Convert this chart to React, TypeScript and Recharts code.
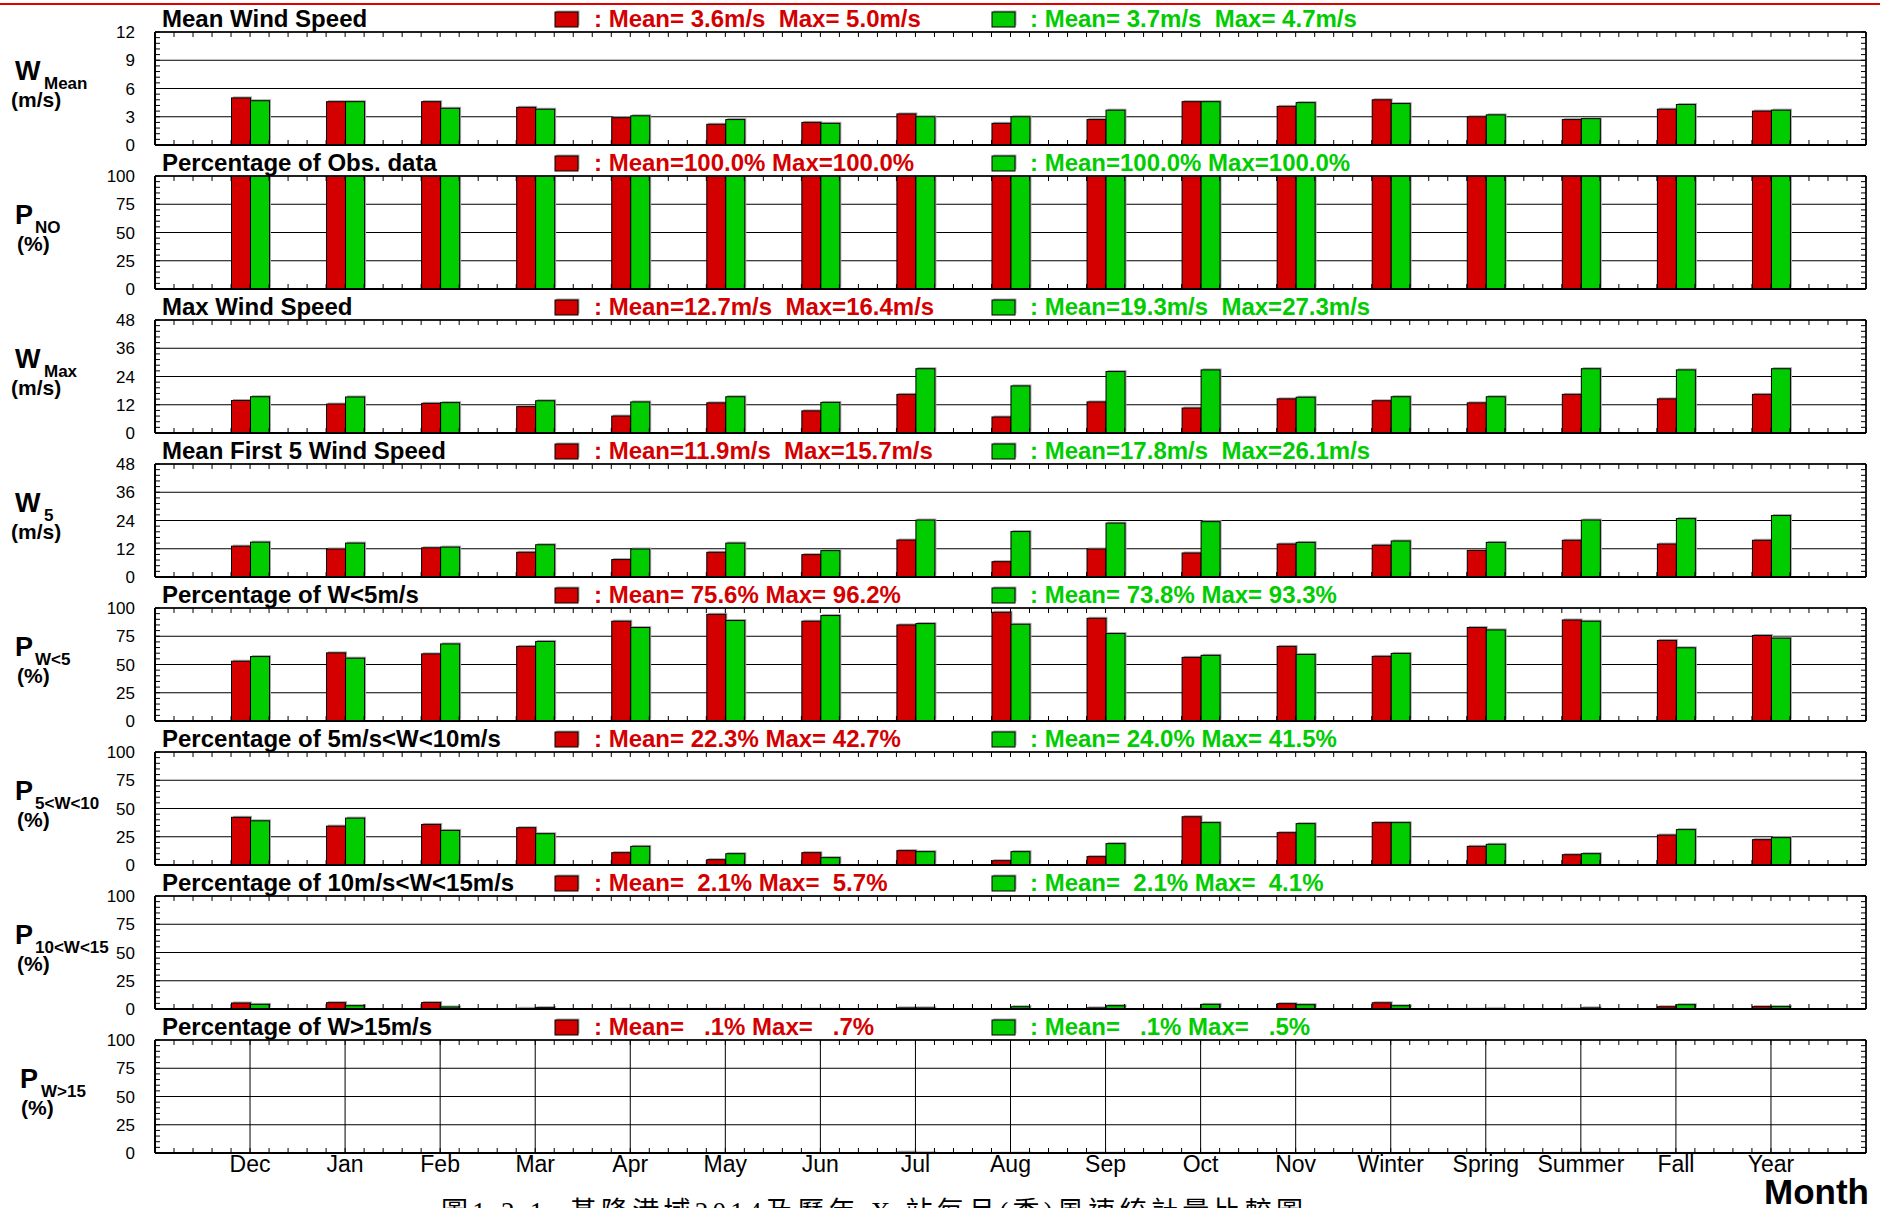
import React from 'react';
import { BarChart, Bar, XAxis, YAxis, CartesianGrid } from 'recharts';

const categories = ['Dec', 'Jan', 'Feb', 'Mar', 'Apr', 'May', 'Jun', 'Jul', 'Aug', 'Sep', 'Oct', 'Nov', 'Winter', 'Spring', 'Summer', 'Fall', 'Year'];

// red = 2014, green = all years
const wMeanRed = [5.0, 4.6, 4.6, 4.0, 2.9, 2.2, 2.4, 3.3, 2.3, 2.7, 4.6, 4.1, 4.8, 3.0, 2.7, 3.8, 3.6];
const wMeanGreen = [4.7, 4.6, 3.9, 3.8, 3.1, 2.7, 2.3, 3.0, 3.0, 3.7, 4.6, 4.5, 4.4, 3.2, 2.8, 4.3, 3.7];
const pObsRed = [100, 100, 100, 100, 100, 100, 100, 100, 100, 100, 100, 100, 100, 100, 100, 100, 100];
const pObsGreen = [100, 100, 100, 100, 100, 100, 100, 100, 100, 100, 100, 100, 100, 100, 100, 100, 100];
const wMaxRed = [13.8, 12.3, 12.6, 11.2, 7.2, 12.8, 9.4, 16.4, 6.8, 13.2, 10.6, 14.5, 13.7, 12.8, 16.4, 14.5, 16.4];
const wMaxGreen = [15.4, 15.3, 12.9, 13.7, 13.2, 15.4, 13.0, 27.3, 20.0, 26.1, 26.8, 15.2, 15.4, 15.4, 27.3, 26.8, 27.3];
const w5Red = [13.1, 11.9, 12.4, 10.5, 7.4, 10.5, 9.5, 15.7, 6.5, 11.9, 10.2, 14.0, 13.5, 11.3, 15.6, 14.0, 15.6];
const w5Green = [14.8, 14.4, 12.7, 13.7, 11.9, 14.4, 11.2, 24.2, 19.3, 22.9, 23.5, 14.7, 15.3, 14.7, 24.2, 24.8, 26.1];
const pLt5Red = [52.9, 60.3, 59.4, 66.0, 88.3, 94.4, 88.3, 85.0, 96.2, 90.9, 56.3, 66.0, 57.2, 82.7, 89.4, 71.3, 75.7];
const pLt5Green = [57.0, 55.6, 68.2, 70.4, 82.7, 88.9, 93.3, 86.2, 85.6, 77.4, 58.1, 58.9, 59.8, 80.6, 88.3, 64.8, 73.3];
const p5to10Red = [42.2, 34.4, 35.9, 33.0, 10.9, 4.7, 10.9, 12.7, 3.8, 7.4, 42.7, 28.6, 37.5, 16.5, 9.1, 26.5, 22.4];
const p5to10Green = [39.1, 41.5, 30.6, 27.7, 16.5, 10.0, 6.5, 11.8, 11.8, 18.9, 37.5, 36.6, 37.5, 18.3, 10.0, 31.3, 24.2];
const p10to15Red = [5.3, 5.6, 5.7, 0.6, 0.3, 0.2, 0.2, 1.0, 0.1, 1.0, 0.3, 4.7, 5.5, 0.2, 0.3, 2.0, 2.1];
const p10to15Green = [4.1, 2.9, 1.8, 1.2, 0.3, 0.2, 0.2, 1.0, 2.0, 2.9, 4.1, 3.8, 2.9, 0.5, 1.0, 3.8, 2.1];
const pGt15Red = [0, 0, 0, 0, 0, 0, 0.1, 0.7, 0.2, 0.3, 0, 0, 0, 0, 0.3, 0.1, 0.1];
const pGt15Green = [0, 0, 0, 0, 0, 0, 0, 0.5, 0.3, 0.2, 0.1, 0, 0, 0, 0.3, 0.1, 0.1];

const RED = '#d40000';
const GREEN = '#00cc00';
const FONT = '"Liberation Sans", Arial, sans-serif';

const PLOT_TOP = 32;
const PLOT_H = 113;
const STEP = 144;

type PanelDef = {
  title: string;
  sym: string;
  sub: string;
  unit: string;
  red: number[];
  green: number[];
  max: number;
  major: number;
  redNote: string;
  greenNote: string;
  symX?: number;
  subX?: number;
  unitX?: number;
};

const panels: PanelDef[] = [
  { title: 'Mean Wind Speed', sym: 'W', sub: 'Mean', unit: '(m/s)', red: wMeanRed, green: wMeanGreen, max: 12, major: 3,
    redNote: ': Mean= 3.6m/s  Max= 5.0m/s', greenNote: ': Mean= 3.7m/s  Max= 4.7m/s' },
  { title: 'Percentage of Obs. data', sym: 'P', sub: 'NO', unit: '(%)', red: pObsRed, green: pObsGreen, max: 100, major: 25,
    redNote: ': Mean=100.0% Max=100.0%', greenNote: ': Mean=100.0% Max=100.0%' },
  { title: 'Max Wind Speed', sym: 'W', sub: 'Max', unit: '(m/s)', red: wMaxRed, green: wMaxGreen, max: 48, major: 12,
    redNote: ': Mean=12.7m/s  Max=16.4m/s', greenNote: ': Mean=19.3m/s  Max=27.3m/s' },
  { title: 'Mean First 5 Wind Speed', sym: 'W', sub: '5', unit: '(m/s)', red: w5Red, green: w5Green, max: 48, major: 12,
    redNote: ': Mean=11.9m/s  Max=15.7m/s', greenNote: ': Mean=17.8m/s  Max=26.1m/s' },
  { title: 'Percentage of W<5m/s', sym: 'P', sub: 'W<5', unit: '(%)', red: pLt5Red, green: pLt5Green, max: 100, major: 25,
    redNote: ': Mean= 75.6% Max= 96.2%', greenNote: ': Mean= 73.8% Max= 93.3%' },
  { title: 'Percentage of 5m/s<W<10m/s', sym: 'P', sub: '5<W<10', unit: '(%)', red: p5to10Red, green: p5to10Green, max: 100, major: 25,
    redNote: ': Mean= 22.3% Max= 42.7%', greenNote: ': Mean= 24.0% Max= 41.5%' },
  { title: 'Percentage of 10m/s<W<15m/s', sym: 'P', sub: '10<W<15', unit: '(%)', red: p10to15Red, green: p10to15Green, max: 100, major: 25,
    redNote: ': Mean=  2.1% Max=  5.7%', greenNote: ': Mean=  2.1% Max=  4.1%' },
  { title: 'Percentage of W>15m/s', sym: 'P', sub: 'W>15', unit: '(%)', red: pGt15Red, green: pGt15Green, max: 100, major: 25,
    redNote: ': Mean=   .1% Max=   .7%', greenNote: ': Mean=   .1% Max=   .5%', symX: 20, subX: 41, unitX: 21 },
];

const minorX = Array.from({ length: 91 }, (_, k) => +(k * 0.2).toFixed(1));
const keepSpaces = (s: string) => s.replace(/ /g, '\u00A0');

// small inward tick drawn at the anchor the axis gives
const tickMark = (dx: number, dy: number) => (props: any) => {
  const { x, y } = props;
  return <line x1={x} y1={y} x2={x + dx} y2={y + dy} stroke="#000" strokeWidth={1} />;
};
const TICK = 5;

const ShadowBar = (props: any) => {
  const { x, y, width, height, fill } = props;
  if (height == null || height <= 0) return null;
  return (
    <g>
      <rect x={x + 1.5} y={y - 1.5} width={width} height={height} fill="#a8a8a8" />
      <rect x={x} y={y} width={width} height={height} fill={fill} stroke="#000" strokeWidth={1} />
    </g>
  );
};

const Panel = ({ p, index, last }: { p: PanelDef; index: number; last: boolean }) => {
  const data = categories.map((name, i) => ({ name, pos: i + 1, red: p.red[i], green: p.green[i] }));
  const majorTicks: number[] = [];
  for (let v = 0; v <= p.max + 1e-9; v += p.major) majorTicks.push(v);
  const minorStep = p.major / 5;
  const minorY = Array.from({ length: Math.round(p.max / minorStep) + 1 }, (_, k) => +(k * minorStep).toFixed(2));
  const axisH = last ? 40 : 1;
  const bottom = last ? 0 : 12;

  return (
    <div style={{ position: 'absolute', left: 0, top: index * STEP }}>
      <BarChart
        width={1880}
        height={PLOT_TOP + PLOT_H + axisH + bottom}
        data={data}
        margin={{ top: PLOT_TOP, right: 14, bottom, left: 0 }}
        barGap={0}
        barSize={19}
      >
        <CartesianGrid stroke="#000" strokeWidth={1} />
        <XAxis
          dataKey="name"
          padding={{ left: 47.5, right: 47.5 }}
          height={axisH}
          interval={0}
          tick={last ? { fontSize: 23, fill: '#000' } : false}
          tickLine={false}
          tickSize={0}
          tickMargin={3}
          axisLine={{ stroke: '#000', strokeWidth: 2 }}
        />
        <XAxis xAxisId="mb" type="number" dataKey="pos" domain={[0, 18]} allowDataOverflow ticks={minorX} interval={0}
          orientation="bottom" mirror height={1} tick={tickMark(0, -TICK)} tickSize={0} tickMargin={0}
          axisLine={false} tickLine={false} />
        <XAxis xAxisId="mt" type="number" dataKey="pos" domain={[0, 18]} allowDataOverflow ticks={minorX} interval={0}
          orientation="top" mirror height={1} tick={tickMark(0, TICK)} tickSize={0} tickMargin={0}
          axisLine={{ stroke: '#000', strokeWidth: 1.5 }} tickLine={false} />
        <YAxis
          domain={[0, p.max]}
          allowDataOverflow
          ticks={majorTicks}
          interval={0}
          width={155}
          tickLine={false}
          tickSize={0}
          tickMargin={20}
          tick={{ fontSize: 17, fill: '#000' }}
          axisLine={{ stroke: '#000', strokeWidth: 2 }}
        />
        <YAxis yAxisId="ml" dataKey="red" domain={[0, p.max]} allowDataOverflow ticks={minorY} interval={0}
          orientation="left" mirror width={1} tick={tickMark(TICK, 0)} tickSize={0} tickMargin={0}
          axisLine={false} tickLine={false} />
        <YAxis yAxisId="mr" dataKey="red" domain={[0, p.max]} allowDataOverflow ticks={minorY} interval={0}
          orientation="right" mirror width={1} tick={tickMark(-TICK, 0)} tickSize={0} tickMargin={0}
          axisLine={{ stroke: '#000', strokeWidth: 1.5 }} tickLine={false} />
        <Bar dataKey="red" fill={RED} shape={ShadowBar} isAnimationActive={false} />
        <Bar dataKey="green" fill={GREEN} shape={ShadowBar} isAnimationActive={false} />
      </BarChart>
    </div>
  );
};

const Labels = () => (
  <svg width={1880} height={1208} style={{ position: 'absolute', left: 0, top: 0, pointerEvents: 'none' }}>
    <line x1={0} y1={4} x2={1880} y2={4} stroke="#e00000" strokeWidth={2} />
    {panels.map((p, i) => {
      const top = PLOT_TOP + i * STEP;
      const symX = p.symX ?? 15;
      const subX = p.subX ?? (p.sym === 'W' ? 44 : 35);
      const unitX = p.unitX ?? (p.unit === '(%)' ? 17 : 11);
      return (
        <g key={i} fontFamily={FONT} fontWeight="bold">
          <text x={162} y={top - 5} fontSize={24} fill="#000">{p.title}</text>
          <rect x={555} y={top - 20} width={23} height={15} fill="#a8a8a8" transform="translate(1.5,-1.5)" />
          <rect x={555} y={top - 20} width={23} height={15} fill={RED} stroke="#000" />
          <text x={594} y={top - 5} fontSize={24} fill={RED}>{keepSpaces(p.redNote)}</text>
          <rect x={992} y={top - 20} width={23} height={15} fill="#a8a8a8" transform="translate(1.5,-1.5)" />
          <rect x={992} y={top - 20} width={23} height={15} fill={GREEN} stroke="#000" />
          <text x={1030} y={top - 5} fontSize={24} fill={GREEN}>{keepSpaces(p.greenNote)}</text>
          <text x={symX} y={top + 48} fontSize={27} fill="#000">{p.sym}</text>
          <text x={subX} y={top + 57} fontSize={17} fill="#000">{p.sub}</text>
          <text x={unitX} y={top + 75} fontSize={21} fill="#000">{p.unit}</text>
        </g>
      );
    })}
    <text x={1869} y={1204} textAnchor="end" fontFamily={FONT} fontWeight="bold" fontSize={35} fill="#000">Month</text>
    <text x={441} y={1221} fontFamily='"Liberation Serif", "Noto Sans CJK TC", serif' fontSize={27} fill="#000"
      textLength={862} lengthAdjust="spacing">{keepSpaces('圖1.2.1  基隆港域2014及歷年 X 站每月(季)風速統計量比較圖')}</text>
  </svg>
);

export default function App() {
  return (
    <div style={{ position: 'fixed', left: 0, top: 0, width: 1880, height: 1208, overflow: 'hidden', background: '#fff', fontFamily: FONT }}>
      {panels.map((p, i) => (
        <Panel key={i} p={p} index={i} last={i === panels.length - 1} />
      ))}
      <Labels />
    </div>
  );
}
